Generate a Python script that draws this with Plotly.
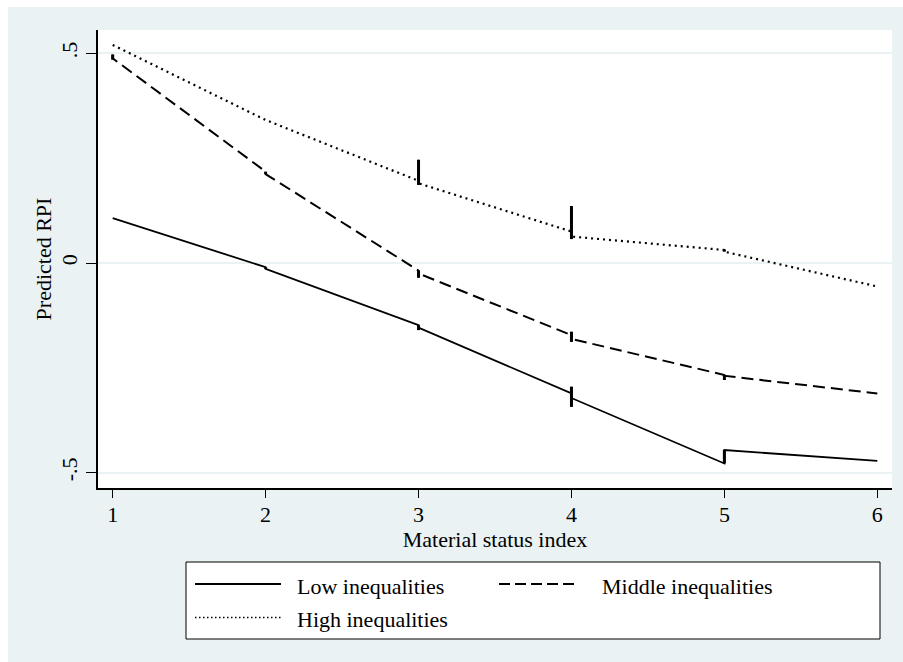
import plotly.graph_objects as go

# ---------------- data ----------------
x_low = [1, 2, 2, 3, 3, 3, 4, 4, 4, 4, 5, 5, 6]
y_low = [0.107, -0.010, -0.014, -0.148, -0.160, -0.154, -0.311, -0.295, -0.343, -0.322, -0.478, -0.446, -0.472]

x_mid = [1, 1, 1, 2, 2, 3, 3, 3, 4, 4, 4, 4, 5, 5, 5, 6]
y_mid = [0.497, 0.485, 0.488, 0.218, 0.212, -0.018, -0.035, -0.025, -0.172, -0.164, -0.188, -0.181, -0.267, -0.279, -0.269, -0.311]

x_high = [1, 2, 3, 3, 3, 3, 4, 4, 4, 4, 5, 5, 6]
y_high = [0.520, 0.341, 0.196, 0.246, 0.186, 0.190, 0.075, 0.136, 0.057, 0.063, 0.031, 0.027, -0.056]

series_names = ["Low inequalities", "Middle inequalities", "High inequalities"]
x_ticks = [1, 2, 3, 4, 5, 6]
y_ticks = [-0.5, 0, 0.5]
y_ticklabels = ["-.5", "0", ".5"]

FONT = "Liberation Serif"
BLUISH = "#eaf2f3"

# ---------------- geometry helpers (pixel -> paper) ----------------
W, H = 903, 662
L, R, T, B = 98, 892, 30, 488


def px(x):
    return (x - L) / (R - L)


def py(y):
    return (B - y) / (B - T)


fig = go.Figure()

dashes = ["solid", "12px,6px", "2px,4px"]
widths = [1.8, 2.0, 2.2]
series = [(x_low, y_low), (x_mid, y_mid), (x_high, y_high)]

for (xs, ys), name, dash, lw in zip(series, series_names, dashes, widths):
    fig.add_trace(go.Scatter(x=xs, y=ys, mode="lines", name=name,
                             line=dict(color="black", width=lw, dash=dash),
                             showlegend=False, hoverinfo="skip"))
    # spread of repeated observations at the same x, drawn solid
    groups = {}
    for xv, yv in zip(xs, ys):
        groups.setdefault(xv, []).append(yv)
    sx, sy = [], []
    for xv, vals in groups.items():
        if len(vals) > 1:
            sx += [xv, xv, None]
            sy += [min(vals), max(vals), None]
    fig.add_trace(go.Scatter(x=sx, y=sy, mode="lines", showlegend=False,
                             line=dict(color="black", width=3), hoverinfo="skip"))

shapes = [
    # outer graph region
    dict(type="rect", xref="paper", yref="paper", layer="below",
         x0=px(8), x1=px(W + 2), y0=py(H + 2), y1=py(7),
         fillcolor=BLUISH, line=dict(width=0)),
    # plot region
    dict(type="rect", xref="paper", yref="paper", layer="below",
         x0=0, x1=1, y0=0, y1=1, fillcolor="white", line=dict(width=0)),
    # legend box
    dict(type="rect", xref="paper", yref="paper",
         x0=px(186), x1=px(880), y0=py(639), y1=py(562),
         fillcolor="white", line=dict(color="black", width=1)),
    # legend keys
    dict(type="line", xref="paper", yref="paper",
         x0=px(195), x1=px(281), y0=py(584), y1=py(584),
         line=dict(color="black", width=2)),
    dict(type="line", xref="paper", yref="paper",
         x0=px(499), x1=px(577), y0=py(584), y1=py(584),
         line=dict(color="black", width=2, dash="11px,5px")),
    dict(type="line", xref="paper", yref="paper",
         x0=px(195), x1=px(281), y0=py(617.5), y1=py(617.5),
         line=dict(color="black", width=1.5, dash="1.5px,2.5px")),
]

annotations = [
    dict(text=series_names[0], x=px(295), y=py(586), xref="paper", yref="paper",
         xanchor="left", yanchor="middle", showarrow=False,
         font=dict(family=FONT, size=22, color="black")),
    dict(text=series_names[1], x=px(600), y=py(586), xref="paper", yref="paper",
         xanchor="left", yanchor="middle", showarrow=False,
         font=dict(family=FONT, size=22, color="black")),
    dict(text=series_names[2], x=px(295), y=py(619), xref="paper", yref="paper",
         xanchor="left", yanchor="middle", showarrow=False,
         font=dict(family=FONT, size=22, color="black")),
]

fig.update_layout(
    width=W, height=H,
    margin=dict(l=L, r=W - R, t=T, b=H - B, autoexpand=False),
    paper_bgcolor="white", plot_bgcolor="white",
    font=dict(family=FONT, size=22, color="black"),
    shapes=shapes, annotations=annotations, showlegend=False,
    xaxis=dict(range=[0.904, 6.096], tickvals=x_ticks, ticks="outside",
               ticklen=8, tickwidth=1, tickcolor="black",
               ticklabelstandoff=-2,
               showline=True, linecolor="black", linewidth=1.5,
               showgrid=False, zeroline=False, automargin=False,
               title=dict(text="Material status index", standoff=0,
                          font=dict(family=FONT, size=22))),
    yaxis=dict(range=[-0.5365, 0.5556], tickvals=y_ticks, ticktext=y_ticklabels,
               tickangle=-90, ticks="outside", ticklen=10, tickwidth=1,
               tickcolor="black", showline=True, linecolor="black", linewidth=1.5,
               showgrid=True, gridcolor=BLUISH, gridwidth=2, zeroline=False,
               automargin=False,
               title=dict(text="Predicted RPI", standoff=0,
                          font=dict(family=FONT, size=22))),
)

fig.write_html("out.html")
